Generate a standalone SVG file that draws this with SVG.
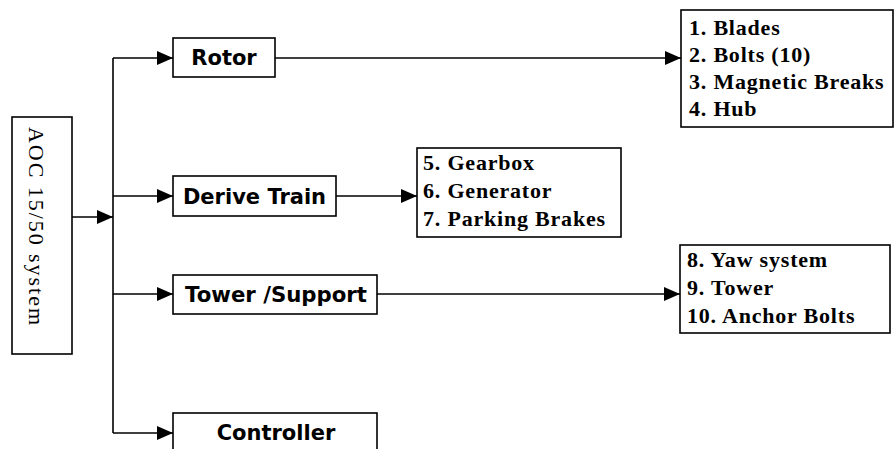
<svg xmlns="http://www.w3.org/2000/svg" width="895" height="449" viewBox="0 0 895 449">
<defs>
<marker id="arr" markerUnits="userSpaceOnUse" markerWidth="17" markerHeight="14" refX="16" refY="7" orient="auto">
<path d="M0,0 L16,7 L0,14 Z" fill="#000"/>
</marker>
<style>
.box{fill:#fff;stroke:#000;stroke-width:1.6}
.sans{font-family:"DejaVu Sans",Verdana,sans-serif;font-weight:bold;font-size:21px;fill:#000}
.ser{font-family:"Liberation Serif","Times New Roman",serif;font-weight:bold;font-size:22px;letter-spacing:0.8px;fill:#000}
.vert{font-family:"Liberation Serif","Times New Roman",serif;font-size:22px;fill:#000}
.ln{fill:none;stroke:#000;stroke-width:1.6}
</style>
</defs>
<rect width="895" height="449" fill="#fff"/>
<g id="connectors">
<path class="ln" d="M113,58 V433"/>
<path class="ln" d="M72,217 H113" marker-end="url(#arr)"/>
<path class="ln" d="M113,58 H173" marker-end="url(#arr)"/>
<path class="ln" d="M113,196 H173" marker-end="url(#arr)"/>
<path class="ln" d="M113,294 H173" marker-end="url(#arr)"/>
<path class="ln" d="M113,433 H173" marker-end="url(#arr)"/>
<path class="ln" d="M275,58 H681" marker-end="url(#arr)"/>
<path class="ln" d="M336,196 H417" marker-end="url(#arr)"/>
<path class="ln" d="M377,294 H680" marker-end="url(#arr)"/>
</g>
<g id="aoc">
<rect class="box" x="12" y="117" width="60" height="237"/>
<text class="vert" transform="translate(29,127) rotate(90)" textLength="198" lengthAdjust="spacing">AOC 15/50 system</text>
</g>
<g id="rotor">
<rect class="box" x="173" y="38" width="102" height="39"/>
<text class="sans" x="224" y="65" text-anchor="middle">Rotor</text>
</g>
<g id="derive-train">
<rect class="box" x="173" y="176" width="163" height="40"/>
<text class="sans" x="254.5" y="204" text-anchor="middle">Derive Train</text>
</g>
<g id="tower-support">
<rect class="box" x="173" y="275" width="204" height="39"/>
<text class="sans" x="185" y="302" textLength="182" lengthAdjust="spacingAndGlyphs">Tower /Support</text>
</g>
<g id="controller">
<rect class="box" x="173" y="413" width="204" height="50"/>
<text class="sans" x="276" y="440" text-anchor="middle">Controller</text>
</g>
<g id="rotor-parts">
<rect class="box" x="681" y="10" width="212" height="117"/>
<text class="ser" x="689" y="35">1. Blades</text>
<text class="ser" x="689" y="62">2. Bolts (10)</text>
<text class="ser" x="689" y="89">3. Magnetic Breaks</text>
<text class="ser" x="689" y="116">4. Hub</text>
</g>
<g id="drive-parts">
<rect class="box" x="417" y="148" width="204" height="89"/>
<text class="ser" x="423" y="170">5. Gearbox</text>
<text class="ser" x="423" y="198">6. Generator</text>
<text class="ser" x="423" y="226">7. Parking Brakes</text>
</g>
<g id="tower-parts">
<rect class="box" x="680" y="245" width="210" height="88"/>
<text class="ser" x="687" y="267">8. Yaw system</text>
<text class="ser" x="687" y="295">9. Tower</text>
<text class="ser" x="687" y="323">10. Anchor Bolts</text>
</g>
</svg>
